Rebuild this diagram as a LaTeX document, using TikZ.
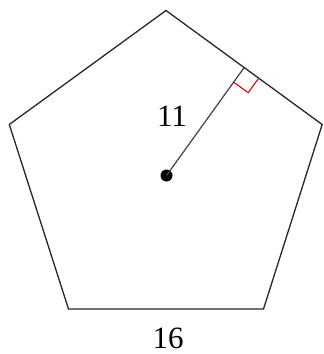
\documentclass[tikz,border=0pt]{standalone}
\usepackage{fontspec}
\setmainfont{Liberation Serif}
\begin{document}
\begin{tikzpicture}[x=0.5pt,y=-0.5pt,
  edge/.style={draw=black!85, line width=0.65pt, line join=miter},
  apo/.style={draw=black!75, line width=0.6pt},
  rightmark/.style={draw=red!90!black, line width=0.55pt},
  lbl/.style={font=\fontsize{15.5pt}{18pt}\selectfont, inner sep=0pt},
  dot/.style={circle, fill=black, inner sep=0pt, minimum size=6pt}]
\useasboundingbox (0,0) rectangle (323,354);
% vertices
\coordinate (T)  at (166,10.5);
\coordinate (R)  at (322.2,124.5);
\coordinate (BR) at (263.5,309);
\coordinate (BL) at (68.5,309);
\coordinate (L)  at (9.3,124.5);
\draw[edge] (T) -- (R) -- (BR) -- (BL) -- (L) -- cycle;
% centre and apothem
\node[dot] (C) at (166.5,175.5) {};
\coordinate (F) at (244.2,67.5);
\draw[apo] (C.center) -- (F);
% right-angle marker
\coordinate (M1) at (233.6,82.1);
\coordinate (M2) at (248.2,92.7);
\coordinate (M3) at (258.8,78.1);
\draw[rightmark] (M1) -- (M2) -- (M3);
% labels
\node[lbl] (a) at (172,116) {11};
\node[lbl] (s) at (168,338) {16};
\end{tikzpicture}
\end{document}
